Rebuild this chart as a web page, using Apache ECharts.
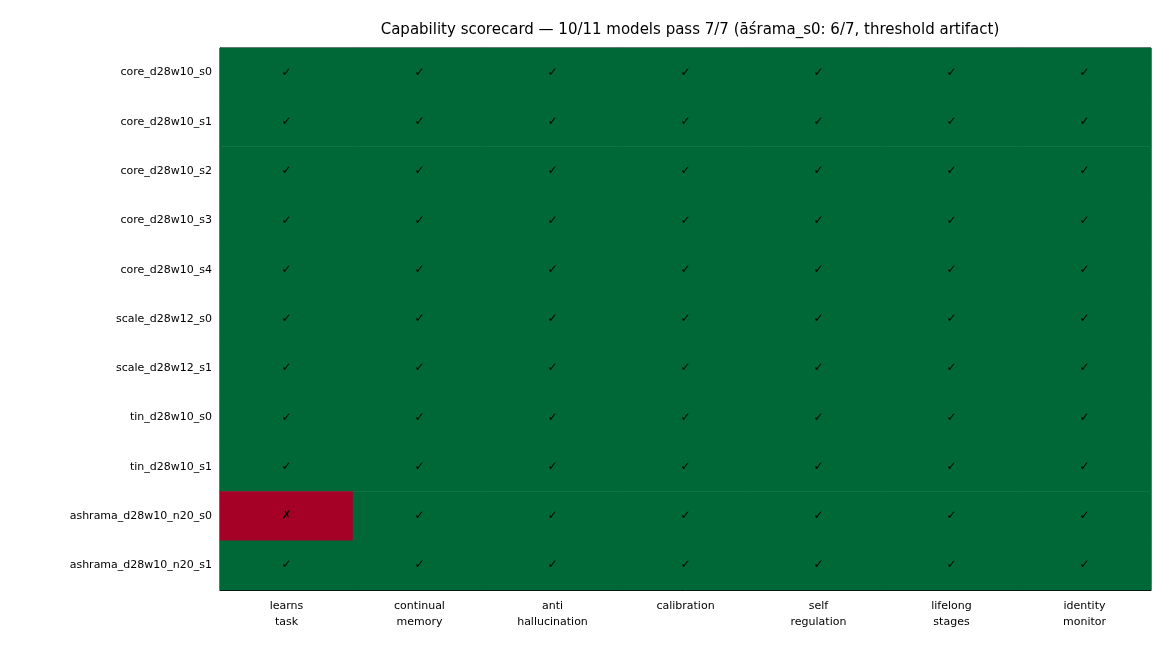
<!DOCTYPE html>
<html lang="en">
<head>
<meta charset="UTF-8">
<title>Capability scorecard</title>
<script src="https://cdn.jsdelivr.net/npm/echarts@6/dist/echarts.min.js"></script>
</head>
<body style="margin:0">
<div id="main" style="width:1170px;height:650px"></div>
<script>
var models = ['core_d28w10_s0', 'core_d28w10_s1', 'core_d28w10_s2', 'core_d28w10_s3', 'core_d28w10_s4',
    'scale_d28w12_s0', 'scale_d28w12_s1', 'tin_d28w10_s0', 'tin_d28w10_s1',
    'ashrama_d28w10_n20_s0', 'ashrama_d28w10_n20_s1'];
var capabilities = ['learns\ntask', 'continual\nmemory', 'anti\nhallucination', 'calibration',
    'self\nregulation', 'lifelong\nstages', 'identity\nmonitor'];
// 1 = pass, 0 = fail; one row per model
var passed = [
    [1, 1, 1, 1, 1, 1, 1],
    [1, 1, 1, 1, 1, 1, 1],
    [1, 1, 1, 1, 1, 1, 1],
    [1, 1, 1, 1, 1, 1, 1],
    [1, 1, 1, 1, 1, 1, 1],
    [1, 1, 1, 1, 1, 1, 1],
    [1, 1, 1, 1, 1, 1, 1],
    [1, 1, 1, 1, 1, 1, 1],
    [1, 1, 1, 1, 1, 1, 1],
    [0, 1, 1, 1, 1, 1, 1],
    [1, 1, 1, 1, 1, 1, 1]
];

var cells = [];
passed.forEach(function (row, i) {
    row.forEach(function (v, j) {
        cells.push([j, i, v]);
    });
});

var myChart = echarts.init(document.getElementById('main'));
var option = {
    animation: false,
    title: {
        text: 'Capability scorecard \u2014 10/11 models pass 7/7 (\u0101\u015brama_s0: 6/7, threshold artifact)',
        left: 685, top: 18, textAlign: 'center',
        textStyle: { fontFamily: 'DejaVu Sans', fontSize: 15, fontWeight: 'normal', color: '#000' }
    },
    grid: { left: 220, right: 19, top: 48, bottom: 60, show: true, borderColor: '#000', borderWidth: 1 },
    xAxis: {
        type: 'category', data: capabilities, splitArea: { show: false },
        axisLine: { lineStyle: { color: '#000' } },
        axisTick: { alignWithLabel: true, length: 4, lineStyle: { color: '#000' } },
        axisLabel: { fontFamily: 'DejaVu Sans', fontSize: 11, color: '#000', lineHeight: 16, margin: 8 }
    },
    yAxis: {
        type: 'category', data: models, inverse: true,
        axisLine: { lineStyle: { color: '#000' } },
        axisTick: { alignWithLabel: true, length: 4, lineStyle: { color: '#000' } },
        axisLabel: { fontFamily: 'DejaVu Sans', fontSize: 11, color: '#000', margin: 8 }
    },
    visualMap: {
        show: false, type: 'piecewise', dimension: 2,
        pieces: [{ value: 0, color: '#a50026' }, { value: 1, color: '#006837' }]
    },
    series: [{
        type: 'heatmap', data: cells,
        label: {
            show: true, fontFamily: 'DejaVu Sans', fontSize: 12, color: '#000',
            formatter: function (p) { return p.value[2] ? '\u2713' : '\u2717'; }
        }
    }]
};
myChart.setOption(option);
</script>
</body>
</html>
